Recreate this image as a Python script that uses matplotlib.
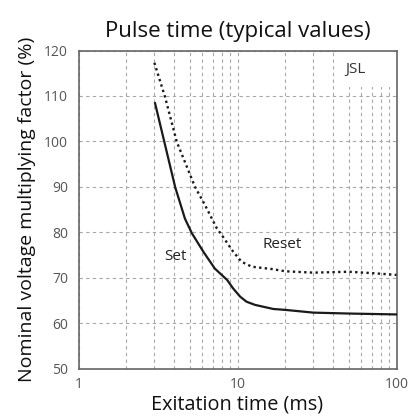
import matplotlib.pyplot as plt
from matplotlib.patches import Rectangle
from matplotlib.ticker import LogLocator, FixedLocator, NullFormatter

# Set curve (solid)
set_time = [3.03, 3.46, 4.05, 4.67, 5.16, 6.1, 7.2, 8.6, 9.4, 10.4, 11.4, 12.9, 16.8, 20, 30, 50, 100]
set_factor = [108.4, 100, 90, 83, 79.8, 75.7, 72.0, 69.5, 67.6, 65.8, 64.7, 64.0, 63.1, 62.9, 62.3, 62.1, 61.9]

# Reset curve (dotted)
reset_time = [3.0, 3.5, 4.15, 5.4, 6.24, 7.4, 7.95, 9.4, 10.6, 12.3, 16.4, 20, 30, 50, 70, 100]
reset_factor = [117.3, 109.8, 99.9, 90, 86, 80.9, 79.4, 75.7, 73.5, 72.4, 71.9, 71.4, 71.1, 71.3, 71.0, 70.6]

y_ticks = [50, 60, 70, 80, 90, 100, 110, 120]
x_ticks = [1, 10, 100]
x_tick_labels = ['1', '10', '100']

plt.rcParams['font.family'] = ['Open Sans', 'DejaVu Sans']

fig = plt.figure(figsize=(4.08, 4.2), dpi=100)
ax = fig.add_axes([78.5 / 408, 1 - 368.5 / 420, 318 / 408, 318 / 420])

ax.plot(set_time, set_factor, color='#1a1a1a', lw=1.6, zorder=3)
ax.plot(reset_time, reset_factor, color='#1a1a1a', lw=1.7, linestyle=(0, (1, 1.4)), zorder=3)

ax.set_xscale('log')
ax.set_xlim(1, 100)
ax.set_ylim(50, 120)
ax.xaxis.set_major_locator(FixedLocator(x_ticks))
ax.set_xticklabels(x_tick_labels)
ax.xaxis.set_minor_locator(LogLocator(base=10, subs=range(2, 10)))
ax.xaxis.set_minor_formatter(NullFormatter())
ax.set_yticks(y_ticks)

ax.grid(True, which='both', axis='x', color='#a8a8a8', linestyle=(0, (3, 3)), lw=0.8)
ax.grid(True, which='major', axis='y', color='#a8a8a8', linestyle=(0, (3, 3)), lw=0.8)
ax.set_axisbelow(True)

# white patch behind the JSL label
ax.add_patch(Rectangle((0.822, 0.885), 0.17, 0.115, transform=ax.transAxes,
                       facecolor='white', edgecolor='none', zorder=1.5))

ax.tick_params(which='both', length=0, labelsize=10, colors='#555555')
ax.tick_params(axis='y', pad=7.5)
ax.tick_params(axis='x', pad=6)
for s in ax.spines.values():
    s.set_color('#666666')
    s.set_linewidth(1.2)

ax.text(4.05, 74.6, 'Set', fontsize=11, ha='center', va='center', color='#222222')
ax.text(19.2, 77.2, 'Reset', fontsize=11, ha='center', va='center', color='#222222')
ax.text(54.8, 115.9, 'JSL', fontsize=11, ha='center', va='center', color='#333333', zorder=4)

ax.set_title('Pulse time (typical values)', fontsize=16, pad=10, color='#111111')
ax.set_xlabel('Exitation time (ms)', fontsize=14.3, color='#111111', labelpad=2)
ax.set_ylabel('Nominal voltage multiplying factor (%)', fontsize=14, color='#111111', labelpad=6)

fig.savefig('out.png', dpi=100)
